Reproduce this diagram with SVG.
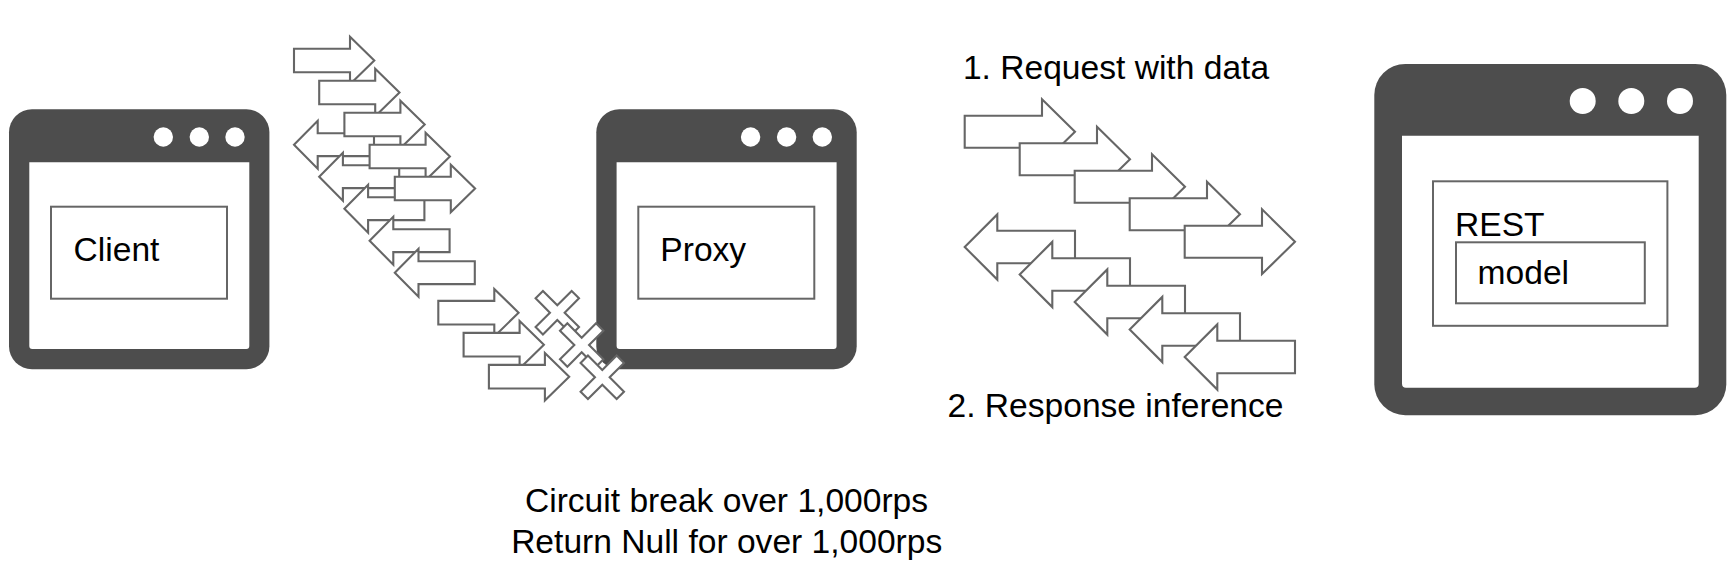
<svg xmlns="http://www.w3.org/2000/svg" width="1732" height="566" viewBox="0 0 1732 566">
<style>
.body{fill:#4d4d4d}
.pane{fill:#fff}
.box{fill:#fff;stroke:#666;stroke-width:2}
.shape{fill:#fff;stroke:#666;stroke-width:2.1;stroke-linejoin:miter}
text{font-family:"Liberation Sans",Arial,sans-serif;font-size:33.6px;fill:#000}
</style>
<defs>
<polygon id="sr" class="shape" points="0,-11.8 56,-11.8 56,-23.8 80.3,0 56,23.8 56,11.8 0,11.8"/>
<polygon id="sl" class="shape" points="0,0 23.7,-24 23.7,-11.4 80,-11.4 80,11.4 23.7,11.4 23.7,24"/>
<polygon id="br" class="shape" points="0,-16 77.3,-16 77.3,-32.4 110.3,0 77.3,32.4 77.3,16 0,16"/>
<polygon id="bl" class="shape" points="0,0 32.6,-32.6 32.6,-16.2 110.3,-16.2 110.3,16.2 32.6,16.2 32.6,32.6"/>
<polygon id="x" class="shape" transform="rotate(45)" points="-5.2,-25.5 5.2,-25.5 5.2,-5.2 25.5,-5.2 25.5,5.2 5.2,5.2 5.2,25.5 -5.2,25.5 -5.2,5.2 -25.5,5.2 -25.5,-5.2 -5.2,-5.2"/>
</defs>
<g id="client">
<rect class="body" x="9" y="109.3" width="260.4" height="260" rx="23" ry="23"/>
<path class="pane" d="M29.3 162.3H249.3V346a3 3 0 0 1-3 3H32.3a3 3 0 0 1-3-3Z"/>
<circle class="pane" cx="163.3" cy="137" r="9.7"/>
<circle class="pane" cx="199.3" cy="137" r="9.7"/>
<circle class="pane" cx="235" cy="137" r="9.7"/>
<rect class="box" x="51" y="206.7" width="176" height="92"/>
<text x="73.6" y="261.3">Client</text>
</g>
<g id="proxy">
<rect class="body" x="596.3" y="109.3" width="260.4" height="260" rx="23" ry="23"/>
<path class="pane" d="M616.6 162.3H836.6V346a3 3 0 0 1-3 3H619.6a3 3 0 0 1-3-3Z"/>
<circle class="pane" cx="750.6" cy="137" r="9.7"/>
<circle class="pane" cx="786.6" cy="137" r="9.7"/>
<circle class="pane" cx="822.3" cy="137" r="9.7"/>
<rect class="box" x="638.3" y="206.7" width="176" height="92"/>
<text x="660.3" y="261.3">Proxy</text>
</g>
<g id="rest-server">
<rect class="body" x="1374.3" y="64" width="352" height="351.2" rx="31" ry="31"/>
<path class="pane" d="M1402 135.7H1698.7V383.8a4 4 0 0 1-4 4H1406a4 4 0 0 1-4-4Z"/>
<circle class="pane" cx="1582.7" cy="101" r="13"/>
<circle class="pane" cx="1631.3" cy="101" r="13"/>
<circle class="pane" cx="1680" cy="101" r="13"/>
<rect class="box" x="1433" y="181.3" width="234.4" height="144.5"/>
<text x="1455" y="236">REST</text>
<g id="model">
<rect class="box" x="1456" y="242.3" width="188.8" height="61"/>
<text x="1477.6" y="284.3">model</text>
</g>
</g>
<g id="connectors">
<g id="proxy-responses">
<use href="#sl" x="294" y="144.7"/>
<use href="#sl" x="319.2" y="176.7"/>
<use href="#sl" x="344.4" y="208.7"/>
<use href="#sl" x="369.6" y="240.7"/>
<use href="#sl" x="394.8" y="272.7"/>
</g>
<g id="proxy-requests">
<use href="#sr" x="294" y="60.5"/>
<use href="#sr" x="319.2" y="92.5"/>
<use href="#sr" x="344.4" y="124.5"/>
<use href="#sr" x="369.6" y="156.5"/>
<use href="#sr" x="394.8" y="188.5"/>
</g>
<g id="blocked-requests">
<use href="#sr" x="438.3" y="312.7"/>
<use href="#sr" x="463.6" y="344.7"/>
<use href="#sr" x="488.9" y="376.7"/>
</g>
<g id="circuit-breaks">
<use href="#x" x="557.3" y="312.7"/>
<use href="#x" x="581.7" y="345"/>
<use href="#x" x="602.3" y="377.3"/>
</g>
<g id="rest-requests">
<use href="#br" x="964.7" y="131.7"/>
<use href="#br" x="1019.7" y="159.2"/>
<use href="#br" x="1074.7" y="186.7"/>
<use href="#br" x="1129.7" y="214.2"/>
<use href="#br" x="1184.7" y="241.7"/>
</g>
<g id="rest-responses">
<use href="#bl" x="964.7" y="247"/>
<use href="#bl" x="1019.7" y="274.5"/>
<use href="#bl" x="1074.7" y="302"/>
<use href="#bl" x="1129.7" y="329.5"/>
<use href="#bl" x="1184.7" y="357"/>
</g>
</g>
<g id="labels">
<text x="1116" y="78.6" text-anchor="middle">1. Request with data</text>
<text x="1115.5" y="416.7" text-anchor="middle">2. Response inference</text>
<text x="726.5" y="511.7" text-anchor="middle">Circuit break over 1,000rps</text>
<text x="726.7" y="553.2" text-anchor="middle">Return Null for over 1,000rps</text>
</g>
</svg>
